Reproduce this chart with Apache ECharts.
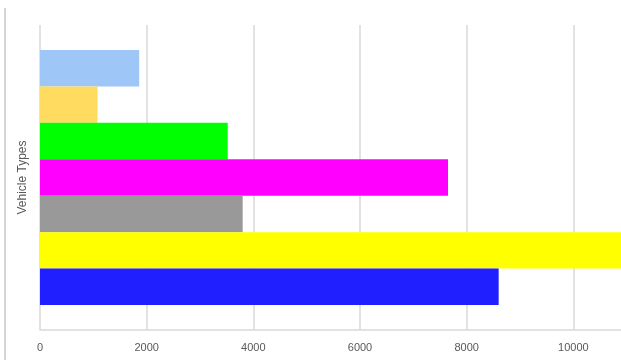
<!DOCTYPE html>
<html>
<head>
<meta charset="utf-8">
<script src="https://cdn.jsdelivr.net/npm/echarts@6/dist/echarts.min.js"></script>
<style>
  html, body { margin: 0; padding: 0; background: #fff; }
  #chart { width: 621px; height: 360px; }
</style>
</head>
<body>
<div id="chart"></div>
<script>
// One category, one bar per vehicle type (first entry drawn at the top)
const categories = [''];
const seriesNames = ['Type 1', 'Type 2', 'Type 3', 'Type 4', 'Type 5', 'Type 6', 'Type 7'];
const seriesValues = [1860, 1080, 3520, 7650, 3800, 11000, 8600];
const seriesColors = ['#9ec6f7', '#ffdc60', '#00ff00', '#ff00ff', '#999999', '#ffff00', '#1f1fff'];
const xTicks = [0, 2000, 4000, 6000, 8000, 10000, 12000];

const chart = echarts.init(document.getElementById('chart'), null, { renderer: 'canvas' });

const series = seriesNames.map((name, i) => ({
  name: name,
  type: 'bar',
  data: [seriesValues[i]],
  barGap: '0%',
  barCategoryGap: '16.4%',
  itemStyle: { color: seriesColors[i] },
  clip: true
}));

chart.setOption({
  animation: false,
  backgroundColor: '#ffffff',
  // the plot runs past the right edge of the canvas, so the last tick is cut off
  grid: { left: 40, width: 640, top: 25, bottom: 30, containLabel: false, outerBoundsMode: 'none' },
  xAxis: {
    type: 'value',
    min: xTicks[0],
    max: xTicks[xTicks.length - 1],
    interval: 2000,
    axisLine: { show: true, lineStyle: { color: '#d9d9d9', width: 1.5 } },
    axisTick: { show: false },
    axisLabel: {
      color: '#595959',
      fontSize: 11,
      fontFamily: 'Liberation Sans, sans-serif',
      margin: 12,
      formatter: (v) => String(v)
    },
    splitLine: { show: true, lineStyle: { color: '#d9d9d9', width: 1.5 } }
  },
  yAxis: {
    type: 'category',
    data: categories,
    name: 'Vehicle Types',
    nameLocation: 'middle',
    nameRotate: 90,
    nameGap: 11,
    nameTextStyle: { color: '#595959', fontSize: 12, fontFamily: 'Liberation Sans, sans-serif' },
    axisLine: { show: false },
    axisTick: { show: false },
    axisLabel: { show: false },
    splitLine: { show: false }
  },
  graphic: [{
    type: 'line',
    shape: { x1: 5, y1: 8, x2: 5, y2: 360 },
    style: { stroke: '#c8c8c8', lineWidth: 1.5 }
  }],
  series: series
});
</script>
</body>
</html>
